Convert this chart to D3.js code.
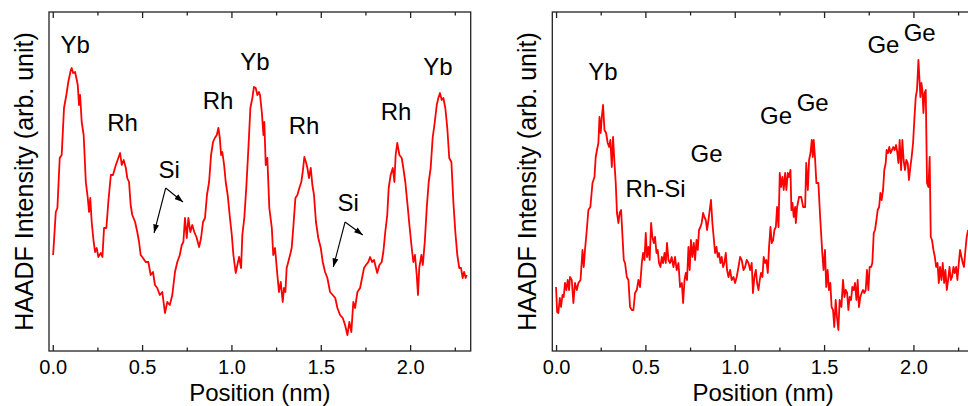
<!DOCTYPE html>
<html><head><meta charset="utf-8">
<script src="https://cdn.jsdelivr.net/npm/d3@7"></script>
<style>html,body{margin:0;padding:0;background:#fff;overflow:hidden}svg{display:block}</style>
</head><body>
<script>
// ---------- data (position in nm, HAADF intensity in arbitrary units) ----------
const leftPos = [0.002,0.017,0.026,0.039,0.050,0.063,0.076,0.087,0.101,0.106,
0.114,0.125,0.132,0.140,0.147,0.153,0.162,0.173,0.185,0.196,
0.203,0.210,0.218,0.229,0.237,0.246,0.255,0.269,0.278,0.287,
0.300,0.311,0.325,0.337,0.353,0.367,0.377,0.386,0.397,0.409,
0.417,0.427,0.436,0.445,0.461,0.473,0.483,0.492,0.505,0.520,
0.535,0.548,0.561,0.572,0.585,0.599,0.613,0.628,0.641,0.655,
0.669,0.684,0.697,0.711,0.722,0.731,0.740,0.750,0.759,0.770,
0.781,0.792,0.804,0.819,0.830,0.841,0.852,0.863,0.875,0.886,
0.897,0.907,0.918,0.927,0.935,0.942,0.949,0.959,0.968,0.979,
0.990,1.002,1.011,1.024,1.033,1.043,1.054,1.061,1.072,1.083,
1.095,1.106,1.117,1.126,1.136,1.145,1.154,1.160,1.170,1.179,
1.184,1.192,1.201,1.212,1.226,1.234,1.244,1.257,1.266,1.276,
1.287,1.294,1.302,1.309,1.318,1.328,1.337,1.346,1.358,1.369,
1.380,1.391,1.399,1.408,1.417,1.425,1.434,1.444,1.453,1.462,
1.473,1.486,1.500,1.511,1.524,1.537,1.552,1.567,1.581,1.593,
1.608,1.623,1.636,1.649,1.660,1.671,1.682,1.692,1.705,1.720,
1.731,1.742,1.753,1.766,1.776,1.787,1.798,1.809,1.816,1.828,
1.841,1.850,1.861,1.872,1.880,1.891,1.903,1.912,1.919,1.928,
1.940,1.953,1.962,1.973,1.984,1.996,2.009,2.018,2.027,2.037,
2.044,2.051,2.063,2.071,2.082,2.093,2.104,2.115,2.126,2.138,
2.149,2.158,2.167,2.177,2.186,2.197,2.208,2.219,2.231,2.242,
2.253,2.264,2.275,2.285,2.294,2.302,2.311,2.317];
const leftInt = [96,139,143,193,196,243,256,269,281,283,
278,279,273,266,246,256,229,216,169,153,
139,153,129,109,99,103,94,98,94,123,
123,149,176,176,186,193,198,186,191,183,
173,169,146,136,129,119,109,96,93,89,
89,76,79,66,63,56,59,38,49,46,
56,79,89,96,106,109,133,113,133,119,
126,119,114,104,113,129,133,156,169,196,
209,213,216,223,213,196,199,186,169,156,
136,116,96,78,86,94,83,116,133,163,
203,243,253,264,263,256,259,256,239,216,
229,186,193,143,123,96,103,76,59,69,
49,63,59,83,89,96,103,123,153,156,
163,169,179,194,189,183,173,183,166,156,
129,113,103,89,79,73,59,56,53,43,
36,33,26,16,29,19,49,43,59,63,
73,83,86,89,94,89,91,83,78,86,
89,99,119,136,163,176,183,169,196,208,
196,193,183,169,149,126,103,89,96,76,
56,83,96,86,109,143,169,183,213,229,
246,253,258,251,253,243,223,193,189,149,
119,96,83,83,73,79,73,76];

const rightPos = [0.000,0.006,0.013,0.021,0.028,0.036,0.043,0.050,0.058,0.065,
0.073,0.078,0.088,0.097,0.106,0.116,0.125,0.137,0.148,0.155,
0.162,0.172,0.181,0.192,0.204,0.215,0.222,0.229,0.237,0.243,
0.250,0.256,0.263,0.271,0.280,0.289,0.297,0.304,0.312,0.319,
0.327,0.334,0.341,0.349,0.356,0.364,0.372,0.379,0.386,0.396,
0.405,0.414,0.424,0.433,0.442,0.452,0.461,0.470,0.480,0.487,
0.495,0.502,0.509,0.517,0.524,0.532,0.539,0.547,0.554,0.562,
0.569,0.576,0.584,0.592,0.599,0.607,0.614,0.621,0.629,0.638,
0.647,0.657,0.666,0.675,0.685,0.694,0.704,0.711,0.719,0.726,
0.733,0.741,0.748,0.755,0.763,0.771,0.778,0.786,0.793,0.800,
0.808,0.815,0.823,0.830,0.838,0.845,0.853,0.860,0.867,0.875,
0.882,0.890,0.898,0.905,0.912,0.920,0.927,0.935,0.942,0.950,
0.957,0.965,0.974,0.983,0.993,1.002,1.011,1.021,1.030,1.039,
1.049,1.058,1.067,1.077,1.086,1.095,1.102,1.110,1.118,1.125,
1.133,1.140,1.147,1.155,1.162,1.170,1.177,1.185,1.192,1.200,
1.207,1.215,1.222,1.230,1.237,1.245,1.252,1.259,1.267,1.274,
1.282,1.289,1.297,1.304,1.312,1.317,1.323,1.330,1.338,1.342,
1.349,1.360,1.372,1.383,1.394,1.400,1.409,1.416,1.424,1.431,
1.437,1.442,1.449,1.457,1.468,1.479,1.490,1.497,1.505,1.512,
1.520,1.527,1.535,1.542,1.550,1.557,1.565,1.572,1.580,1.587,
1.597,1.606,1.614,1.621,1.629,1.636,1.643,1.651,1.658,1.666,
1.673,1.681,1.688,1.695,1.703,1.710,1.718,1.725,1.733,1.740,
1.748,1.755,1.763,1.770,1.778,1.785,1.793,1.800,1.808,1.815,
1.822,1.830,1.837,1.845,1.850,1.858,1.865,1.872,1.880,1.887,
1.895,1.903,1.910,1.916,1.923,1.931,1.938,1.945,1.953,1.960,
1.968,1.975,1.983,1.990,1.998,2.006,2.013,2.020,2.028,2.034,
2.039,2.045,2.050,2.056,2.062,2.069,2.076,2.084,2.091,2.097,
2.104,2.112,2.120,2.127,2.135,2.142,2.149,2.157,2.164,2.172,
2.179,2.187,2.194,2.202,2.209,2.216,2.224,2.231,2.239,2.246,
2.254,2.261,2.269,2.276,2.283,2.291,2.298,2.306];
const rightInt = [64,39,38,53,44,56,54,68,61,71,
61,74,71,48,68,61,68,71,101,84,
101,121,141,144,168,174,194,201,208,234,
218,234,246,221,218,208,204,211,184,214,
188,168,138,128,138,141,114,91,88,74,
71,44,41,41,58,61,71,64,88,98,
91,118,94,104,91,128,114,108,114,98,
101,88,84,94,88,98,88,108,91,88,
94,84,94,81,88,64,68,48,71,78,
71,104,81,111,94,108,91,111,101,121,
124,128,138,134,131,121,131,141,151,128,
114,98,104,94,98,88,94,84,88,98,
81,74,81,71,74,68,74,84,94,91,
81,84,91,88,81,88,58,74,81,68,
61,71,78,74,94,88,91,78,104,124,
108,111,121,124,144,124,178,164,174,161,
178,161,178,174,181,141,148,134,144,128,
144,154,154,144,144,188,161,191,198,211,
194,211,194,168,168,131,98,81,101,64,
81,61,68,44,41,24,51,34,21,51,
44,71,54,61,58,41,54,51,64,61,
68,51,71,44,54,58,61,58,61,81,
61,84,84,88,118,121,131,141,144,158,
151,161,181,188,201,198,204,198,201,204,
201,206,198,188,211,181,211,191,181,191,
188,171,184,194,208,234,254,261,291,271,
254,268,261,238,258,261,168,164,194,114,
111,101,94,84,88,68,84,71,88,68,
81,61,71,84,71,74,84,78,84,71,
88,101,94,88,84,101,114,121];

const xMajorTicks = [0, 0.5, 1.0, 1.5, 2.0];
const xMinorTicks = [0.25, 0.75, 1.25, 1.75, 2.25];

const leftLabelText = ["Yb","Rh","Si","Rh","Yb","Rh","Si","Rh","Yb"];
const leftLabelPos  = [0.125,0.391,0.651,0.925,1.132,1.406,1.653,1.921,2.156];
const leftLabelInt  = [298,220,173,242,281,217,140,231,276];
// arrows from below each "Si" label
const leftArrowStartPos = [0.632,0.632,1.636,1.636];
const leftArrowStartInt = [163,163,129,129];
const leftArrowEndPos   = [0.567,0.729,1.570,1.735];
const leftArrowEndInt   = [118,149,84,116];

const rightLabelText = ["Yb","Rh-Si","Ge","Ge","Ge","Ge","Ge"];
const rightLabelPos  = [0.263,0.557,0.842,1.231,1.436,1.832,2.035];
const rightLabelInt  = [271,154,189,227,240,298,310];

const xTitle = "Position (nm)";
const yTitle = "HAADF Intensity (arb. unit)";

// ---------- drawing ----------
const W = 968, H = 406;
const FONT = "'Liberation Sans', Arial, Helvetica, sans-serif";
const svg = d3.select("body").append("svg").attr("width", W).attr("height", H)
  .style("font-family", FONT);

const defs = svg.append("defs");
defs.append("marker").attr("id","arrow").attr("viewBox","0 0 10 7")
  .attr("refX",10).attr("refY",3.5).attr("markerWidth",9).attr("markerHeight",6)
  .attr("markerUnits","userSpaceOnUse").attr("orient","auto")
  .append("path").attr("d","M0,0 L10,3.5 L0,7 Z").attr("fill","#000");

const plotTop = 12, plotBottom = 351, panelW = 421.7;
const yScale = d3.scaleLinear().domain([0, 339]).range([plotBottom, plotTop]);

function panel(x0, pos, inten, labText, labPos, labInt, arrows) {
  const g = svg.append("g");
  const x = d3.scaleLinear().domain([-0.021, 2.339]).range([x0, x0 + panelW]);
  const data = pos.map((p, i) => ({p, v: inten[i]}));

  g.append("path").datum(data)
    .attr("fill","none").attr("stroke","#ff0000").attr("stroke-width",1.8)
    .attr("stroke-linejoin","round")
    .attr("d", d3.line().x(d => x(d.p)).y(d => yScale(d.v)));

  const bAx = g.append("g").attr("transform",`translate(0,${plotBottom})`)
    .call(d3.axisBottom(x).tickValues(xMajorTicks).tickSizeInner(-6).tickSizeOuter(0)
      .tickPadding(9).tickFormat(d3.format(".1f")));
  const bAxMin = g.append("g").attr("transform",`translate(0,${plotBottom})`)
    .call(d3.axisBottom(x).tickValues(xMinorTicks).tickSizeInner(-3.5).tickSizeOuter(0).tickFormat(""));
  const tAx = g.append("g").attr("transform",`translate(0,${plotTop})`)
    .call(d3.axisTop(x).tickValues(xMajorTicks).tickSizeInner(-6).tickSizeOuter(0).tickFormat(""));
  const tAxMin = g.append("g").attr("transform",`translate(0,${plotTop})`)
    .call(d3.axisTop(x).tickValues(xMinorTicks).tickSizeInner(-3.5).tickSizeOuter(0).tickFormat(""));
  [bAx,bAxMin,tAx,tAxMin].forEach(a => {
    a.select(".domain").remove();
    a.selectAll(".tick line").attr("stroke","#222").attr("stroke-width",1.3);
    a.selectAll(".tick text").attr("fill","#000").style("font-size","20px").style("font-family",FONT);
  });

  g.append("rect").attr("x",x0).attr("y",plotTop).attr("width",panelW).attr("height",plotBottom-plotTop)
    .attr("fill","none").attr("stroke","#222").attr("stroke-width",1.3);

  g.append("text").attr("x", x0 + panelW/2).attr("y", 400.5).attr("text-anchor","middle")
    .style("font-size","24px").text(xTitle);
  g.append("text").attr("transform",`translate(${x0-16},${(plotTop+plotBottom)/2}) rotate(-90)`)
    .attr("text-anchor","middle").style("font-size","25px").text(yTitle);

  g.selectAll("text.lab").data(labText).join("text").attr("class","lab")
    .attr("x",(d,i)=>x(labPos[i])).attr("y",(d,i)=>yScale(labInt[i]))
    .attr("text-anchor","middle").style("font-size","24px").text(d=>d);

  if (arrows) {
    g.selectAll("line.arr").data(arrows.sp).join("line").attr("class","arr")
      .attr("x1",(d,i)=>x(arrows.sp[i])).attr("y1",(d,i)=>yScale(arrows.si[i]))
      .attr("x2",(d,i)=>x(arrows.ep[i])).attr("y2",(d,i)=>yScale(arrows.ei[i]))
      .attr("stroke","#000").attr("stroke-width",1.1).attr("marker-end","url(#arrow)");
  }
}

panel(49, leftPos, leftInt, leftLabelText, leftLabelPos, leftLabelInt,
  {sp:leftArrowStartPos, si:leftArrowStartInt, ep:leftArrowEndPos, ei:leftArrowEndInt});
panel(552.3, rightPos, rightInt, rightLabelText, rightLabelPos, rightLabelInt, null);
</script>
</body></html>
